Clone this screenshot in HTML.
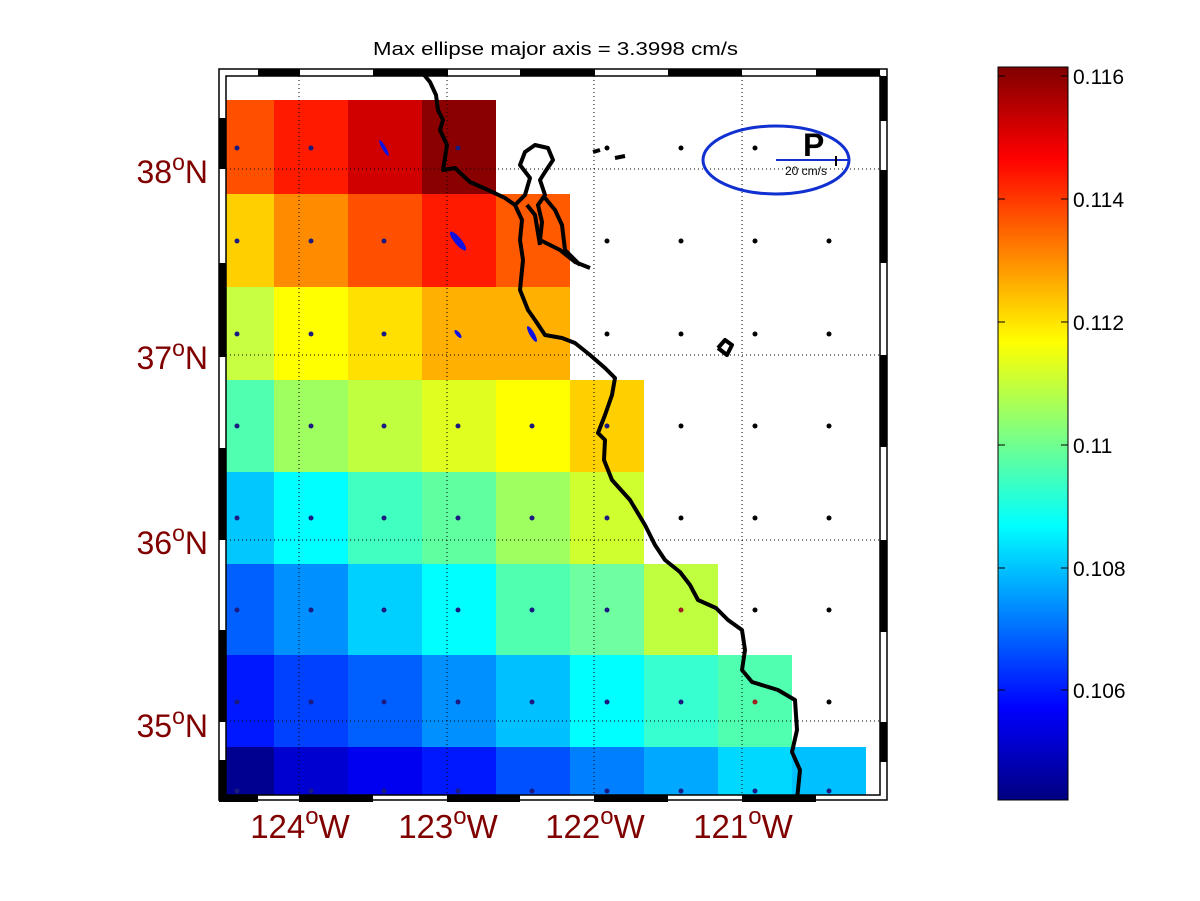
<!DOCTYPE html>
<html><head><meta charset="utf-8"><style>body{margin:0;background:#fff}svg{display:block}</style></head><body>
<svg width="1200" height="901" xmlns="http://www.w3.org/2000/svg" font-family="Liberation Sans, sans-serif">
<defs>
<linearGradient id="jet" x1="0" y1="1" x2="0" y2="0">
<stop offset="0" stop-color="#000080"/><stop offset="0.125" stop-color="#0000ff"/><stop offset="0.375" stop-color="#00ffff"/><stop offset="0.625" stop-color="#ffff00"/><stop offset="0.875" stop-color="#ff0000"/><stop offset="1" stop-color="#800000"/>
</linearGradient>
</defs>
<text x="373" y="55" font-size="18" textLength="365" lengthAdjust="spacingAndGlyphs">Max ellipse major axis = 3.3998 cm/s</text>
<!-- cells -->
<g>
<rect x="226" y="100" width="48" height="94" fill="#ff5000"/><rect x="274" y="100" width="74" height="94" fill="#ff1a00"/><rect x="348" y="100" width="74" height="94" fill="#d00000"/><rect x="422" y="100" width="74" height="94" fill="#8a0000"/>
<rect x="226" y="194" width="48" height="93" fill="#ffd000"/><rect x="274" y="194" width="74" height="93" fill="#ff8c00"/><rect x="348" y="194" width="74" height="93" fill="#ff5000"/><rect x="422" y="194" width="74" height="93" fill="#ff1a00"/><rect x="496" y="194" width="74" height="93" fill="#ff5a00"/>
<rect x="226" y="287" width="48" height="93" fill="#c8ff40"/><rect x="274" y="287" width="74" height="93" fill="#ffff00"/><rect x="348" y="287" width="74" height="93" fill="#ffe000"/><rect x="422" y="287" width="148" height="93" fill="#ffb000"/>
<rect x="226" y="380" width="48" height="92" fill="#50ffb0"/><rect x="274" y="380" width="74" height="92" fill="#a0ff60"/><rect x="348" y="380" width="74" height="92" fill="#c0ff40"/><rect x="422" y="380" width="74" height="92" fill="#e0ff20"/><rect x="496" y="380" width="74" height="92" fill="#ffff00"/><rect x="570" y="380" width="74" height="92" fill="#ffd000"/>
<rect x="226" y="472" width="48" height="92" fill="#00c8ff"/><rect x="274" y="472" width="74" height="92" fill="#00ffff"/><rect x="348" y="472" width="74" height="92" fill="#40ffc0"/><rect x="422" y="472" width="74" height="92" fill="#60ffa0"/><rect x="496" y="472" width="74" height="92" fill="#a0ff60"/><rect x="570" y="472" width="74" height="92" fill="#d0ff30"/>
<rect x="226" y="564" width="48" height="91" fill="#0060ff"/><rect x="274" y="564" width="74" height="91" fill="#0090ff"/><rect x="348" y="564" width="74" height="91" fill="#00d0ff"/><rect x="422" y="564" width="74" height="91" fill="#00ffff"/><rect x="496" y="564" width="74" height="91" fill="#50ffb0"/><rect x="570" y="564" width="74" height="91" fill="#70ffa0"/><rect x="644" y="564" width="74" height="91" fill="#c0ff40"/>
<rect x="226" y="655" width="48" height="92" fill="#0018ff"/><rect x="274" y="655" width="74" height="92" fill="#0040ff"/><rect x="348" y="655" width="74" height="92" fill="#0060ff"/><rect x="422" y="655" width="74" height="92" fill="#0090ff"/><rect x="496" y="655" width="74" height="92" fill="#00c0ff"/><rect x="570" y="655" width="74" height="92" fill="#00ffff"/><rect x="644" y="655" width="74" height="92" fill="#38ffd0"/><rect x="718" y="655" width="74" height="92" fill="#50ffb0"/>
<rect x="226" y="747" width="48" height="48" fill="#000090"/><rect x="274" y="747" width="74" height="48" fill="#0000d0"/><rect x="348" y="747" width="74" height="48" fill="#0000f0"/><rect x="422" y="747" width="74" height="48" fill="#0018ff"/><rect x="496" y="747" width="74" height="48" fill="#0050ff"/><rect x="570" y="747" width="74" height="48" fill="#0080ff"/><rect x="644" y="747" width="74" height="48" fill="#00a8ff"/><rect x="718" y="747" width="74" height="48" fill="#00d8ff"/><rect x="792" y="747" width="74" height="48" fill="#00c0ff"/>
</g>
<!-- gridlines -->
<g stroke="#000" stroke-width="1" stroke-dasharray="1,3" fill="none">
<line x1="299" y1="76" x2="299" y2="795"/><line x1="447" y1="76" x2="447" y2="795"/><line x1="594" y1="76" x2="594" y2="795"/><line x1="742" y1="76" x2="742" y2="795"/>
<line x1="226" y1="169" x2="880" y2="169"/><line x1="226" y1="355" x2="880" y2="355"/><line x1="226" y1="540" x2="880" y2="540"/><line x1="226" y1="721" x2="880" y2="721"/>
</g>
<!-- dots -->
<g fill="#1a1a80">
<circle cx="237" cy="148" r="2.5"/><circle cx="311" cy="148" r="2.5"/><circle cx="458" cy="148" r="2.5"/>
<circle cx="237" cy="241" r="2.5"/><circle cx="311" cy="241" r="2.5"/><circle cx="384" cy="241" r="2.5"/>
<circle cx="237" cy="334" r="2.5"/><circle cx="311" cy="334" r="2.5"/><circle cx="384" cy="334" r="2.5"/>
<circle cx="237" cy="426" r="2.5"/><circle cx="311" cy="426" r="2.5"/><circle cx="384" cy="426" r="2.5"/><circle cx="458" cy="426" r="2.5"/><circle cx="532" cy="426" r="2.5"/><circle cx="607" cy="426" r="2.5"/>
<circle cx="237" cy="518" r="2.5"/><circle cx="311" cy="518" r="2.5"/><circle cx="384" cy="518" r="2.5"/><circle cx="458" cy="518" r="2.5"/><circle cx="532" cy="518" r="2.5"/><circle cx="607" cy="518" r="2.5"/>
<circle cx="237" cy="610" r="2.5"/><circle cx="311" cy="610" r="2.5"/><circle cx="384" cy="610" r="2.5"/><circle cx="458" cy="610" r="2.5"/><circle cx="532" cy="610" r="2.5"/><circle cx="607" cy="610" r="2.5"/><circle cx="681" cy="610" r="2.5" fill="#a02020"/>
<circle cx="237" cy="702" r="2.5"/><circle cx="311" cy="702" r="2.5"/><circle cx="384" cy="702" r="2.5"/><circle cx="458" cy="702" r="2.5"/><circle cx="532" cy="702" r="2.5"/><circle cx="607" cy="702" r="2.5"/><circle cx="681" cy="702" r="2.5"/><circle cx="755" cy="702" r="2.5" fill="#a02020"/>
<circle cx="237" cy="791" r="2.5"/><circle cx="311" cy="791" r="2.5"/><circle cx="384" cy="791" r="2.5"/><circle cx="458" cy="791" r="2.5"/><circle cx="532" cy="791" r="2.5"/><circle cx="607" cy="791" r="2.5"/><circle cx="681" cy="791" r="2.5"/><circle cx="755" cy="791" r="2.5"/><circle cx="829" cy="791" r="2.5"/>
</g>
<g fill="#000">
<circle cx="607" cy="148" r="2.5"/><circle cx="681" cy="148" r="2.5"/><circle cx="755" cy="148" r="2.5"/>
<circle cx="607" cy="241" r="2.5"/><circle cx="681" cy="241" r="2.5"/><circle cx="755" cy="241" r="2.5"/><circle cx="829" cy="241" r="2.5"/>
<circle cx="607" cy="334" r="2.5"/><circle cx="681" cy="334" r="2.5"/><circle cx="755" cy="334" r="2.5"/><circle cx="829" cy="334" r="2.5"/>
<circle cx="681" cy="426" r="2.5"/><circle cx="755" cy="426" r="2.5"/><circle cx="829" cy="426" r="2.5"/>
<circle cx="681" cy="518" r="2.5"/><circle cx="755" cy="518" r="2.5"/><circle cx="829" cy="518" r="2.5"/>
<circle cx="755" cy="610" r="2.5"/><circle cx="829" cy="610" r="2.5"/><circle cx="829" cy="702" r="2.5"/>
</g>
<!-- ellipses -->
<g fill="#1010e0">
<ellipse cx="384" cy="148" rx="9" ry="2" transform="rotate(60 384 148)"/>
<ellipse cx="458" cy="241" rx="12" ry="3.5" transform="rotate(50 458 241)"/>
<ellipse cx="458" cy="334" rx="5" ry="2" transform="rotate(50 458 334)"/>
<ellipse cx="532" cy="334" rx="9" ry="2.5" transform="rotate(60 532 334)"/>
</g>
<!-- coast -->
<g fill="none" stroke="#000" stroke-width="4" stroke-linejoin="round">
<polyline points="420,70 430,82 436,95 438,110 443,120 440,130 447,145 445,158 443,170 455,168 470,182 488,190 505,198 515,205 522,220 520,240 523,260 520,290 528,310 535,320 545,335 562,338 575,343 590,355 605,368 615,378 612,395 605,415 598,433 605,440 604,460 612,480 630,500 645,525 655,545 665,560 680,572 690,585 698,600 716,608 728,620 742,630 745,650 742,670 752,682 778,690 795,700 797,730 792,752 800,770 797,800"/>
<polyline points="515,205 525,195 530,178 520,165 525,152 535,145 548,148 553,160 545,172 540,180 545,195 538,205 542,222 540,240 560,250 575,262 590,268"/>
<polyline points="527,205 535,215 540,245"/>
<polyline points="545,198 555,210 562,225 565,250 580,265"/>
<polyline points="718,348 725,340 732,345 727,355 718,348"/>
<polyline points="593,152 600,150"/><polyline points="615,158 625,156"/>
</g>
<!-- legend ellipse -->
<ellipse cx="776" cy="160" rx="73" ry="34" fill="none" stroke="#1030d0" stroke-width="3"/>
<line x1="776" y1="160" x2="850" y2="160" stroke="#1030d0" stroke-width="2"/>
<line x1="836" y1="156" x2="836" y2="166" stroke="#000" stroke-width="2"/>
<text x="803" y="156" font-size="32" font-weight="bold">P</text>
<text x="806" y="175" font-size="12" text-anchor="middle">20 cm/s</text>
<!-- frame -->
<g>
<rect x="219" y="69" width="668" height="731" fill="none" stroke="#000" stroke-width="1.5"/>
<rect x="226" y="76" width="654" height="719" fill="none" stroke="#000" stroke-width="1.5"/>
<g fill="#000">
<rect x="258" y="69" width="42" height="7"/><rect x="373" y="69" width="75" height="7"/><rect x="520" y="69" width="75" height="7"/><rect x="668" y="69" width="74" height="7"/><rect x="816" y="69" width="64" height="7"/>
<rect x="219" y="795" width="39" height="7"/><rect x="299" y="795" width="74" height="7"/><rect x="447" y="795" width="73" height="7"/><rect x="594" y="795" width="74" height="7"/><rect x="742" y="795" width="74" height="7"/>
<rect x="219" y="118" width="7" height="51"/><rect x="219" y="263" width="7" height="94"/><rect x="219" y="448" width="7" height="92"/><rect x="219" y="630" width="7" height="92"/><rect x="219" y="760" width="7" height="40"/>
<rect x="880" y="76" width="7" height="45"/><rect x="880" y="170" width="7" height="93"/><rect x="880" y="355" width="7" height="92"/><rect x="880" y="540" width="7" height="92"/><rect x="880" y="722" width="7" height="40"/>
</g>
</g>
<!-- axis labels -->
<g fill="#800000" font-size="32">
<text x="208" y="183" text-anchor="end">38<tspan dy="-13" font-size="23">o</tspan><tspan dy="13">N</tspan></text>
<text x="208" y="369" text-anchor="end">37<tspan dy="-13" font-size="23">o</tspan><tspan dy="13">N</tspan></text>
<text x="208" y="554" text-anchor="end">36<tspan dy="-13" font-size="23">o</tspan><tspan dy="13">N</tspan></text>
<text x="208" y="737" text-anchor="end">35<tspan dy="-13" font-size="23">o</tspan><tspan dy="13">N</tspan></text>
</g>
<g fill="#800000" font-size="33">
<text x="300" y="838" text-anchor="middle">124<tspan dy="-14" font-size="24">o</tspan><tspan dy="14">W</tspan></text>
<text x="448" y="838" text-anchor="middle">123<tspan dy="-14" font-size="24">o</tspan><tspan dy="14">W</tspan></text>
<text x="595" y="838" text-anchor="middle">122<tspan dy="-14" font-size="24">o</tspan><tspan dy="14">W</tspan></text>
<text x="743" y="838" text-anchor="middle">121<tspan dy="-14" font-size="24">o</tspan><tspan dy="14">W</tspan></text>
</g>
<!-- colorbar -->
<rect x="998" y="67" width="70" height="733" fill="url(#jet)" stroke="#000" stroke-width="1"/>
<g stroke="#000" stroke-width="1">
<line x1="998" y1="76" x2="1005" y2="76"/><line x1="1061" y1="76" x2="1068" y2="76"/>
<line x1="998" y1="199" x2="1005" y2="199"/><line x1="1061" y1="199" x2="1068" y2="199"/>
<line x1="998" y1="322" x2="1005" y2="322"/><line x1="1061" y1="322" x2="1068" y2="322"/>
<line x1="998" y1="445" x2="1005" y2="445"/><line x1="1061" y1="445" x2="1068" y2="445"/>
<line x1="998" y1="568" x2="1005" y2="568"/><line x1="1061" y1="568" x2="1068" y2="568"/>
<line x1="998" y1="690" x2="1005" y2="690"/><line x1="1061" y1="690" x2="1068" y2="690"/>
</g>
<g font-size="21">
<text x="1073" y="84">0.116</text><text x="1073" y="207">0.114</text><text x="1073" y="330">0.112</text><text x="1073" y="453">0.11</text><text x="1073" y="576">0.108</text><text x="1073" y="698">0.106</text>
</g>
</svg>
</body></html>
